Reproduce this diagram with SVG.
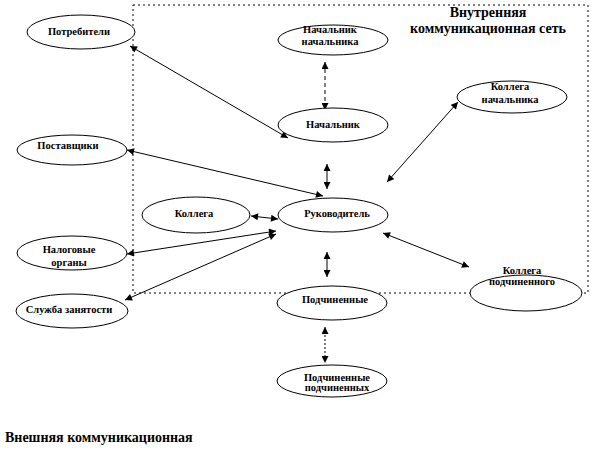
<svg xmlns="http://www.w3.org/2000/svg" width="592" height="454" viewBox="0 0 592 454">
<style>
  .node ellipse { fill: #fff; stroke: #000; stroke-width: 1; }
  .lbl { font-family: 'Liberation Serif', 'DejaVu Serif', serif; font-weight: bold; font-size: 10.5px; fill: #000; text-anchor: middle; }
  .title { font-family: 'Liberation Serif', 'DejaVu Serif', serif; font-weight: bold; font-size: 14px; fill: #000; }
  .conn line { stroke: #000; stroke-width: 1; marker-start: url(#ah); marker-end: url(#ah); }
  .dash { stroke-dasharray: 4 3; }
  .dot { stroke-dasharray: 2 2; }
  .box { fill: none; stroke: #000; stroke-width: 1; stroke-dasharray: 2 3; }
</style>
<defs>
  <marker id="ah" viewBox="0 0 10 10" refX="10" refY="5" markerWidth="8" markerHeight="7" markerUnits="userSpaceOnUse" orient="auto-start-reverse">
    <path d="M0,0 L10,5 L0,10 z" fill="#000"/>
  </marker>
</defs>
<rect class="box" x="133" y="5" width="455" height="288"/>
<text class="title" x="488" y="17" text-anchor="middle">Внутренняя</text>
<text class="title" x="488" y="33" text-anchor="middle">коммуникационная сеть</text>
<g id="connectors" class="conn">
  <line x1="130" y1="46" x2="288" y2="138"/>
  <line class="dash" x1="325" y1="62" x2="325" y2="110"/>
  <line x1="327" y1="164" x2="327" y2="189"/>
  <line x1="127" y1="150" x2="323" y2="196"/>
  <line x1="458" y1="102" x2="387" y2="182"/>
  <line x1="251" y1="216" x2="278" y2="219"/>
  <line x1="127" y1="254" x2="276" y2="231"/>
  <line x1="125" y1="300" x2="276" y2="234"/>
  <line x1="383" y1="233" x2="469" y2="267"/>
  <line x1="327" y1="252" x2="327" y2="277"/>
  <line class="dot" x1="325" y1="327" x2="325" y2="363"/>
</g>
<g id="n-potrebiteli" class="node"><ellipse cx="81" cy="32" rx="54" ry="17"/><text class="lbl" x="79" y="35">Потребители</text></g>
<g id="n-nach-nach" class="node"><ellipse cx="333" cy="40" rx="55" ry="15"/><text class="lbl" x="330" y="33">Начальник</text><text class="lbl" x="330" y="45">начальника</text></g>
<g id="n-koll-nach" class="node"><ellipse cx="512" cy="97" rx="55" ry="16"/><text class="lbl" x="510" y="90">Коллега</text><text class="lbl" x="510" y="103">начальника</text></g>
<g id="n-nach" class="node"><ellipse cx="333" cy="125" rx="55" ry="17"/><text class="lbl" x="333" y="128">Начальник</text></g>
<g id="n-postavshiki" class="node"><ellipse cx="72" cy="150" rx="55" ry="15"/><text class="lbl" x="68" y="149">Поставщики</text></g>
<g id="n-kollega" class="node"><ellipse cx="196" cy="215" rx="54" ry="18"/><text class="lbl" x="194" y="217">Коллега</text></g>
<g id="n-ruk" class="node"><ellipse cx="333" cy="215" rx="55" ry="17"/><text class="lbl" x="337" y="217">Руководитель</text></g>
<g id="n-nalog" class="node"><ellipse cx="72" cy="253" rx="55" ry="17"/><text class="lbl" x="69" y="253">Налоговые</text><text class="lbl" x="69" y="266">органы</text></g>
<g id="n-sluzhba" class="node"><ellipse cx="72" cy="311" rx="56" ry="17"/><text class="lbl" x="69" y="313">Служба занятости</text></g>
<g id="n-podch" class="node"><ellipse cx="332" cy="303" rx="55" ry="17"/><text class="lbl" x="335" y="303">Подчиненные</text></g>
<g id="n-koll-podch" class="node"><ellipse cx="526" cy="293" rx="56" ry="18"/><text class="lbl" x="522" y="274">Коллега</text><text class="lbl" x="522" y="285">подчиненного</text></g>
<g id="n-podch-podch" class="node"><ellipse cx="332" cy="381" rx="55" ry="16"/><text class="lbl" x="337" y="381">Подчиненные</text><text class="lbl" x="337" y="391">подчиненных</text></g>
<text class="title" x="5" y="442">Внешняя коммуникационная</text>
</svg>
